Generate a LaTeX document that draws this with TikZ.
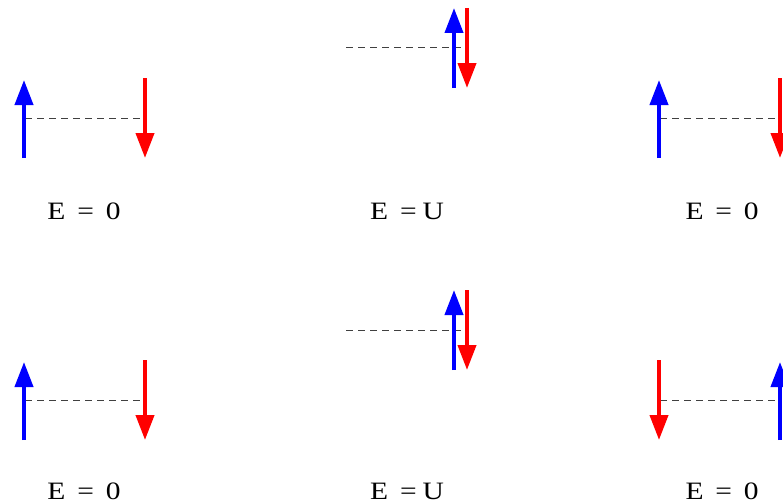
\documentclass[tikz,border=0pt]{standalone}
\usepackage{fontspec}
\setmainfont{Liberation Serif}
\usetikzlibrary{arrows.meta}
\tikzset{
    spin up/.style={blue, line width=4pt, -{Triangle[length=25pt, width=18pt]}},
    spin down/.style={red, line width=4pt, -{Triangle[length=25pt, width=18pt]}},
    level line/.style={black!75, line width=1pt, dash pattern=on 7pt off 5pt},
    energy label/.style={anchor=base, inner sep=0pt, xscale=1.18, transform shape,
        font=\fontsize{25}{30}\selectfont},
}

\begin{document}
\begin{tikzpicture}[x=1pt, y=-1pt]
    \useasboundingbox (0,0) rectangle (783,503);

    % top row: left pair
    \coordinate (ua) at (24,158);  \coordinate (ua') at (24,80);
    \coordinate (da) at (145,78);  \coordinate (da') at (145,158);
    \coordinate (la) at (25,118);  \coordinate (la') at (145,118);
    % top row: doubly occupied site
    \coordinate (ub) at (454,88);  \coordinate (ub') at (454,8);
    \coordinate (db) at (467,8);   \coordinate (db') at (467,88);
    \coordinate (lb) at (346,48);  \coordinate (lb') at (467,48);
    % top row: right pair
    \coordinate (uc) at (659,158); \coordinate (uc') at (659,80);
    \coordinate (dc) at (780,78);  \coordinate (dc') at (780,158);
    \coordinate (lc) at (660,118); \coordinate (lc') at (780,118);

    \draw[level line] (la) -- (la');
    \draw[level line] (lb) -- (lb');
    \draw[level line] (lc) -- (lc');
    \draw[spin up] (ua) -- (ua');
    \draw[spin down] (da) -- (da');
    \draw[spin up] (ub) -- (ub');
    \draw[spin down] (db) -- (db');
    \draw[spin up] (uc) -- (uc');
    \draw[spin down] (dc) -- (dc');

    \node[energy label] (ea) at (84,219) {E\hspace{10pt}=\hspace{10pt}0};
    \node[energy label] (eb) at (407,219) {E\hspace{10pt}=\hspace{5pt}U};
    \node[energy label] (ec) at (722,219) {E\hspace{10pt}=\hspace{10pt}0};

    % bottom row: left pair
    \coordinate (ud) at (24,440);  \coordinate (ud') at (24,362);
    \coordinate (dd) at (145,360); \coordinate (dd') at (145,440);
    \coordinate (ld) at (25,400);  \coordinate (ld') at (145,400);
    % bottom row: doubly occupied site
    \coordinate (ue) at (454,370); \coordinate (ue') at (454,290);
    \coordinate (de) at (467,290); \coordinate (de') at (467,370);
    \coordinate (le) at (346,330); \coordinate (le') at (467,330);
    % bottom row: right pair, spins swapped
    \coordinate (df) at (659,360); \coordinate (df') at (659,440);
    \coordinate (uf) at (780,440); \coordinate (uf') at (780,362);
    \coordinate (lf) at (660,400); \coordinate (lf') at (780,400);

    \draw[level line] (ld) -- (ld');
    \draw[level line] (le) -- (le');
    \draw[level line] (lf) -- (lf');
    \draw[spin up] (ud) -- (ud');
    \draw[spin down] (dd) -- (dd');
    \draw[spin up] (ue) -- (ue');
    \draw[spin down] (de) -- (de');
    \draw[spin down] (df) -- (df');
    \draw[spin up] (uf) -- (uf');

    \node[energy label] (ed) at (84,499) {E\hspace{10pt}=\hspace{10pt}0};
    \node[energy label] (ee) at (407,499) {E\hspace{10pt}=\hspace{5pt}U};
    \node[energy label] (ef) at (722,499) {E\hspace{10pt}=\hspace{10pt}0};
\end{tikzpicture}
\end{document}
